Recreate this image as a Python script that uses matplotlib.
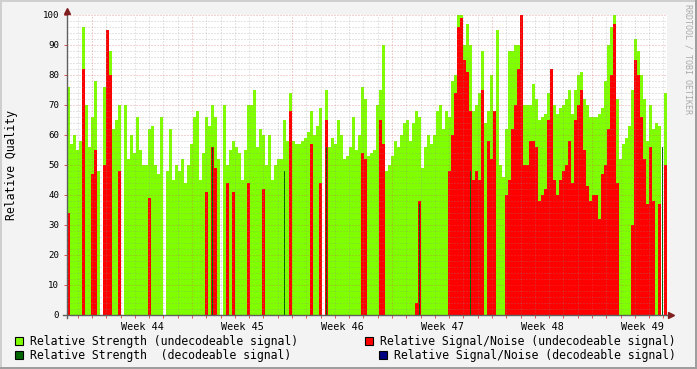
import matplotlib
matplotlib.use('Agg')
import matplotlib.pyplot as plt
import numpy as np
from matplotlib.patches import Rectangle

nan = np.nan

# relative strength, undecodeable signal (one slot ~5 hours, nan = no data)
strength = [
    76, 57, 60, 55, 58, 96, 70, 56, 66, 78, 48, nan, 76, 92, 88, 62, 65, 70, nan, 70,
    52, 60, 54, 66, 55, 50, 50, 62, 63, 50, 47, 66, nan, 48, 62, 45, 50, 48, 52, 44,
    50, 57, 66, 68, 45, 54, 66, 63, 70, 66, 52, nan, 70, 50, 55, 58, 56, 54, 45, 55,
    70, 70, 75, 56, 62, 60, 50, 60, 45, 50, 52, 52, 65, 58, 74, 58, 57, 57, 58, 59,
    61, 68, 60, 63, 69, nan, 75, 56, 59, 57, 65, 60, 52, 53, 56, 66, 55, 60, 76, 72,
    53, 54, 55, 70, 75, 90, 48, 50, 53, 58, 56, 60, 64, 65, 58, 64, 68, 66, 49, 56,
    60, 57, 60, 68, 70, 62, 68, 66, 78, 80, 100, 100, 90, 97, 90, 68, 70, 74, 88, 64,
    68, 80, 60, 95, 50, 46, 62, 88, 88, 90, 90, 100, 70, 70, 70, 77, 72, 65, 66, 67,
    74, 82, 70, 67, 69, 70, 72, 75, 67, 75, 80, 81, 72, 70, 66, 66, 66, 67, 69, 78,
    90, 96, 100, 72, 52, 57, 59, 63, 75, 92, 88, 80, 72, 58, 70, 62, 64, 63, nan, 74,
]

# relative signal/noise, undecodeable signal
snr = [
    34, 0, 0, 0, 0, 82, 0, 0, 47, 55, 0, nan, 50, 95, 80, 0, 0, 48, nan, 0,
    0, 0, 0, 0, 0, 0, 0, 39, 0, 0, 0, 0, nan, 0, 0, 0, 0, 0, 0, 0,
    0, 0, 0, 0, 0, 0, 41, 0, 56, 49, 0, nan, 0, 44, 0, 41, 0, 0, 0, 0,
    44, 0, 0, 0, 0, 42, 0, 0, 0, 0, 0, 0, 0, 0, 68, 0, 0, 0, 0, 0,
    0, 57, 0, 0, 44, nan, 65, 0, 0, 0, 0, 0, 0, 0, 0, 0, 0, 0, 54, 52,
    0, 0, 0, 0, 65, 57, 0, 0, 0, 0, 0, 0, 0, 0, 0, 0, 4, 38, 0, 0,
    0, 0, 0, 0, 0, 0, 0, 48, 60, 74, 96, 99, 85, 81, 68, 45, 48, 45, 75, 0,
    58, 52, 68, 0, 0, 0, 40, 45, 62, 70, 82, 100, 50, 50, 58, 58, 56, 38, 40, 42,
    65, 82, 45, 40, 45, 48, 50, 58, 44, 65, 70, 75, 55, 43, 38, 40, 40, 32, 47, 50,
    62, 80, 97, 44, 0, 0, 0, 0, 30, 85, 80, 66, 52, 37, 56, 38, 0, 37, nan, 50,
]

# relative strength, decodeable signal (only a few thin spikes)
decodeable_slot = [48, 72, 86, 117, 134, 198]
decodeable_val = [56, 48, 56, 37, 48, 56]

weeks = ['Week 44', 'Week 45', 'Week 46', 'Week 47', 'Week 48', 'Week 49']
week_mid = [5.25, 12.25, 19.25, 26.25, 33.25, 40.25]
days_total = 42

mono = 'DejaVu Sans Mono'
W, H = 697, 369

fig = plt.figure(figsize=(W / 100, H / 100), dpi=100, facecolor='#F3F3F3')
ax = fig.add_axes([67 / W, 54 / H, 600 / W, 300 / H])
ax.set_facecolor('white')
ax.set_xlim(0, days_total)
ax.set_ylim(0, 100)
for s in ax.spines.values():
    s.set_visible(False)

step = days_total / len(strength)
t = np.arange(len(strength)) * step
g = np.array(strength, float)
r = np.array(snr, float)

ok = ~np.isnan(g)
ax.bar(t[ok], g[ok], width=step, align='edge', color='#7FFF00',
       linewidth=0, antialiased=False, zorder=1)
okr = ~np.isnan(r) & (np.nan_to_num(r) > 0)
ax.bar(t[okr], r[okr], width=step, align='edge', color='#FF0000',
       linewidth=0, antialiased=False, zorder=1.1)
ax.bar(t[decodeable_slot] + step / 3, decodeable_val, width=step / 3, align='edge',
       color='#006600', linewidth=0, antialiased=False, zorder=1.2)

# grid (drawn over the data like rrdtool)
dots = (0, (1, 2))
for y in range(2, 101, 2):
    if y % 10:
        ax.axhline(y, color='#8F8F8F', alpha=0.45, lw=0.72, ls=dots, zorder=2)
for d in np.arange(0.75, days_total, 1.0):
    if abs((d - 1.75) % 7) > 0.01:
        ax.axvline(d, color='#8F8F8F', alpha=0.45, lw=0.72, ls=dots, zorder=2)
for y in range(10, 101, 10):
    ax.axhline(y, color='#DE5050', alpha=0.5, lw=0.72, ls=dots, zorder=2.1)
for d in np.arange(1.75, days_total, 7.0):
    ax.axvline(d, color='#DE5050', alpha=0.5, lw=0.72, ls=dots, zorder=2.1)

# ticks and labels
ax.set_yticks(range(0, 101, 10))
ax.set_yticklabels([str(v) for v in range(0, 101, 10)], fontsize=6.6, family=mono)
ax.tick_params(axis='y', length=2, width=0.7, color='#DE5050', pad=3.5)
ax.set_xticks(week_mid)
ax.set_xticklabels(weeks, fontsize=7.3, family=mono)
ax.tick_params(axis='x', which='major', length=0, pad=5)
ax.set_xticks(np.arange(0.75, days_total, 1.0), minor=True)
ax.tick_params(axis='x', which='minor', length=2, width=0.7, color='#DE5050')

# axes lines with arrows
ax.plot([0, 0], [-0.01, 1.01], transform=ax.transAxes, color='#606060', lw=1,
        clip_on=False, zorder=5)
ax.plot([-0.006, 1.006], [0, 0], transform=ax.transAxes, color='#606060', lw=1,
        clip_on=False, zorder=5)
ax.plot(0, 1.012, marker='^', ms=4, color='#7F1F1F', transform=ax.transAxes,
        clip_on=False, zorder=6)
ax.plot(1.007, 0, marker='>', ms=4, color='#7F1F1F', transform=ax.transAxes,
        clip_on=False, zorder=6)

fig.text(12 / W, (H - 165) / H, 'Relative Quality', rotation=90, ha='center',
         va='center', fontsize=8.3, family=mono)
fig.text(688 / W, (H - 4) / H, 'RRDTOOL / TOBI OETIKER', rotation=270, ha='center',
         va='top', fontsize=6, family=mono, color='#AAAAAA')

# legend
legend_items = [
    (15, 336.5, 30, 'Relative Strength (undecodeable signal)', '#7FFF00'),
    (15, 350.5, 30, 'Relative Strength  (decodeable signal)', '#006600'),
    (365, 336.5, 380, 'Relative Signal/Noise (undecodeable signal)', '#FF0000'),
    (379, 350.5, 394, 'Relative Signal/Noise (decodeable signal)', '#000080'),
]
for bx, by, tx, label, col in legend_items:
    fig.patches.append(Rectangle((bx / W, (H - by - 8) / H), 8 / W, 8 / H,
                                 transform=fig.transFigure, facecolor=col,
                                 edgecolor='black', lw=0.8))
    fig.text(tx / W, (H - by - 4.5) / H, label, ha='left', va='center',
             fontsize=8.3, family=mono)

# 3d-ish frame
fig.patches.append(Rectangle((0, 1 - 2 / H), 1, 2 / H, transform=fig.transFigure,
                             facecolor='#CFCFCF', lw=0))
fig.patches.append(Rectangle((0, 0), 2 / W, 1, transform=fig.transFigure,
                             facecolor='#CFCFCF', lw=0))
fig.patches.append(Rectangle((0, 0), 1, 2 / H, transform=fig.transFigure,
                             facecolor='#9E9E9E', lw=0))
fig.patches.append(Rectangle((1 - 2 / W, 0), 2 / W, 1, transform=fig.transFigure,
                             facecolor='#9E9E9E', lw=0))

fig.savefig('out.png', dpi=100, facecolor=fig.get_facecolor())
